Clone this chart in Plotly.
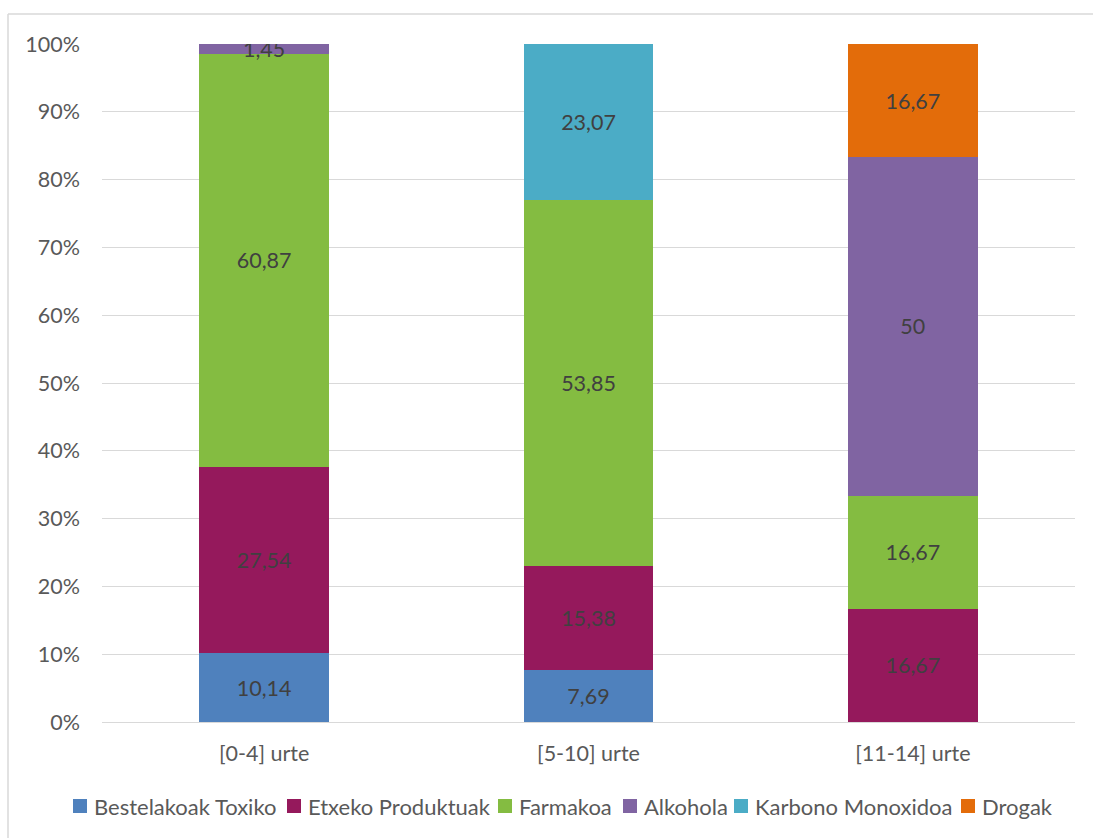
import plotly.graph_objects as go

categories = ["[0-4] urte", "[5-10] urte", "[11-14] urte"]
series_names = ["Bestelakoak Toxiko", "Etxeko Produktuak", "Farmakoa",
                "Alkohola", "Karbono Monoxidoa", "Drogak"]
bestelakoak = [10.14, 7.69, None]
etxeko = [27.54, 15.38, 16.67]
farmakoa = [60.87, 53.85, 16.67]
alkohola = [1.45, None, 50]
karbono = [None, 23.07, None]
drogak = [None, None, 16.67]
colors = ["#4F81BD", "#95195C", "#84BC41", "#8064A2", "#4BACC6", "#E36C0A"]
y_ticks = list(range(0, 101, 10))

FONT = "Lato"
TXT = "#595959"

# plot area in pixels
L, T = 102, 44
W, H = 973, 678
FIG_W, FIG_H = 1093, 838


def fmt(v):
    if v is None:
        return ""
    return f"{v:g}".replace(".", ",")


def px_x(p):
    return (p - L) / W


def px_y(p):
    return (T + H - p) / H


fig = go.Figure()
for name, vals, col in zip(series_names,
                           [bestelakoak, etxeko, farmakoa, alkohola, karbono, drogak],
                           colors):
    fig.add_trace(go.Bar(
        name=name, x=categories, y=vals, marker=dict(color=col, line=dict(width=0)),
        text=[fmt(v) for v in vals], texttemplate="%{text}",
        textposition="inside", insidetextanchor="middle", constraintext="none",
        textfont=dict(family=FONT, size=21.5, color="#404040"),
        hoverinfo="skip", showlegend=False,
    ))

# legend row below the axis: square swatch followed by the series name
legend_left_px = [73, 287, 498, 623, 734, 961]
legend_cy = 806
sw = 14
for name, col, lx in zip(series_names, colors, legend_left_px):
    fig.add_shape(type="rect", xref="paper", yref="paper",
                  x0=px_x(lx), x1=px_x(lx + sw),
                  y0=px_y(legend_cy + sw / 2), y1=px_y(legend_cy - sw / 2),
                  fillcolor=col, line=dict(width=0))
    fig.add_annotation(xref="paper", yref="paper", x=px_x(lx + sw + 5), y=px_y(legend_cy),
                       text=name, showarrow=False, xanchor="left", yanchor="middle",
                       font=dict(family=FONT, size=22, color=TXT))

# outer frame (left and top edges)
x0 = px_x(8)
y1 = px_y(14)
fig.add_shape(type="line", xref="paper", yref="paper", x0=x0, x1=x0, y0=-0.3, y1=y1,
              line=dict(color="#D9D9D9", width=1.5))
fig.add_shape(type="line", xref="paper", yref="paper", x0=x0, x1=1.2, y0=y1, y1=y1,
              line=dict(color="#D9D9D9", width=1.5))

fig.update_layout(
    barmode="stack", barnorm="percent", bargap=0.6,
    width=FIG_W, height=FIG_H,
    margin=dict(l=L, r=FIG_W - L - W, t=T, b=FIG_H - T - H),
    plot_bgcolor="white", paper_bgcolor="white",
    font=dict(family=FONT, color=TXT, size=21.5),
    showlegend=False,
)
fig.update_yaxes(range=[0, 100], tickvals=y_ticks, ticktext=[f"{t}%" for t in y_ticks],
                 showgrid=True, gridcolor="#D9D9D9", gridwidth=1, zeroline=False,
                 showline=False, ticks="", ticklabelstandoff=21,
                 tickfont=dict(family=FONT, size=21.5, color=TXT))
fig.update_xaxes(showline=True, linecolor="#D9D9D9", linewidth=1, ticks="",
                 ticklabelstandoff=12,
                 tickfont=dict(family=FONT, size=21.5, color=TXT))

fig.write_html("out.html")
